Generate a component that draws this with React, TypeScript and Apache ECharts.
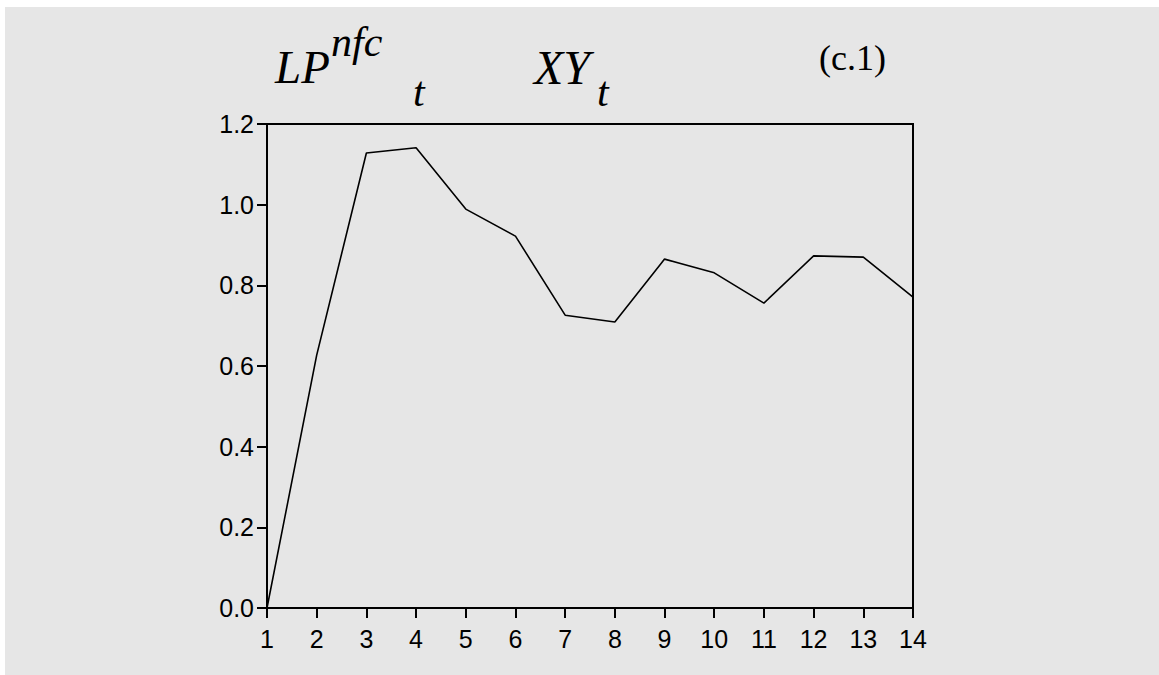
import React, { useEffect, useRef } from "react";
import * as echarts from "echarts";

const categories = ["1", "2", "3", "4", "5", "6", "7", "8", "9", "10", "11", "12", "13", "14"];
const values = [0.0, 0.627, 1.128, 1.141, 0.989, 0.922, 0.726, 0.709, 0.865, 0.831, 0.756, 0.873, 0.87, 0.771];
const yTicks = { min: 0, max: 1.2, interval: 0.2 };

export default function App() {
  const ref = useRef<HTMLDivElement>(null);
  useEffect(() => {
    if (!ref.current) return;
    document.documentElement.style.overflow = "hidden";
    document.body.style.overflow = "hidden";
    document.body.style.background = "#ffffff";
    const chart = echarts.init(ref.current, null, { renderer: "svg" });
    const serif = "Liberation Serif, Times New Roman, serif";
    const sans = "Liberation Sans, Arial, sans-serif";
    chart.setOption({
      animation: false,
      backgroundColor: "#e6e6e6",
      graphic: [
        { type: "text", left: 270, top: 36, style: { text: "LP", font: `italic 47px ${serif}`, fill: "#000" } },
        { type: "text", left: 326, top: 14, style: { text: "nfc", font: `italic 42px ${serif}`, fill: "#000" } },
        { type: "text", left: 408, top: 64, style: { text: "t", font: `italic 42px ${serif}`, fill: "#000" } },
        { type: "text", left: 529, top: 36, style: { text: "XY", font: `italic 48px ${serif}`, fill: "#000" } },
        { type: "text", left: 592, top: 64, style: { text: "t", font: `italic 42px ${serif}`, fill: "#000" } },
        { type: "text", left: 814, top: 33, style: { text: "(c.1)", font: `36px ${serif}`, fill: "#000" } },
      ],
      grid: {
        left: 262,
        right: 246,
        top: 117,
        bottom: 67,
        show: true,
        borderColor: "#000",
        borderWidth: 2,
        backgroundColor: "transparent",
        containLabel: false,
      },
      xAxis: {
        type: "category",
        data: categories,
        boundaryGap: false,
        axisLine: { lineStyle: { color: "#000", width: 2 } },
        axisTick: { show: true, length: 10, inside: false, lineStyle: { color: "#000", width: 2 } },
        axisLabel: { color: "#000", fontSize: 25, fontFamily: sans, margin: 18 },
        splitLine: { show: false },
      },
      yAxis: {
        type: "value",
        min: yTicks.min,
        max: yTicks.max,
        interval: yTicks.interval,
        axisLine: { show: true, lineStyle: { color: "#000", width: 2 } },
        axisTick: { show: true, length: 10, inside: false, lineStyle: { color: "#000", width: 2 } },
        axisLabel: {
          color: "#000",
          fontSize: 25,
          fontFamily: sans,
          margin: 13,
          formatter: (v: number) => v.toFixed(1),
        },
        splitLine: { show: false },
      },
      series: [
        {
          type: "line",
          data: values,
          symbol: "none",
          lineStyle: { color: "#000", width: 1.6 },
        },
      ],
    });
    return () => chart.dispose();
  }, []);
  return (
    <div
      ref={ref}
      style={{ position: "fixed", left: 5, top: 7, width: "calc(100vw - 5px)", height: "calc(100vh - 7px)" }}
    />
  );
}
